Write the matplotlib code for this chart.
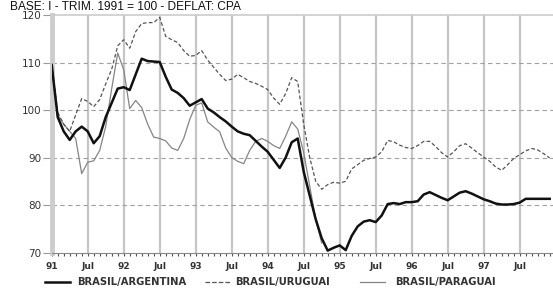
import matplotlib
matplotlib.use("Agg")
import matplotlib.pyplot as plt
from matplotlib.lines import Line2D
import numpy as np

# monthly index, Jan 1991 .. Dec 1997 (real exchange rate indices, 1st qtr 1991 = 100)
argentina = [109.5, 98.5, 95.5, 93.7, 95.5, 96.5, 95.5, 93.0, 94.5, 98.5, 101.5, 104.5,
             104.8, 104.2, 107.5, 110.8, 110.3, 110.2, 110.1, 107.0, 104.3, 103.6, 102.5, 100.9,
             101.6, 102.3, 100.3, 99.5, 98.5, 97.6, 96.5, 95.5, 95.0, 94.7, 93.5, 92.3,
             91.2, 89.5, 87.8, 90.0, 93.2, 94.0, 87.0, 82.0, 77.0, 73.0, 70.4, 71.0,
             71.5, 70.5, 73.5, 75.5, 76.5, 76.8, 76.4, 77.8, 80.2, 80.4, 80.2, 80.6,
             80.6, 80.8, 82.2, 82.7, 82.1, 81.5, 81.0, 81.8, 82.6, 82.9, 82.4, 81.8,
             81.2, 80.8, 80.3, 80.1, 80.1, 80.2, 80.5, 81.3, 81.3, 81.3, 81.3, 81.3]
uruguai = [109.5, 99.5, 97.0, 95.5, 99.0, 102.4, 101.8, 100.7, 102.2, 105.5, 108.6, 113.5,
           114.8, 113.0, 116.5, 118.2, 118.4, 118.4, 119.5, 115.5, 114.8, 114.2, 112.5, 111.3,
           111.5, 112.5, 110.5, 109.0, 107.5, 106.2, 106.5, 107.5, 106.8, 106.0, 105.6, 105.0,
           104.3, 102.5, 101.2, 103.5, 106.8, 106.0, 97.0, 90.0, 85.0, 83.3, 84.3, 84.8,
           84.6, 85.0, 87.6, 88.5, 89.4, 89.8, 90.1, 91.2, 93.6, 93.3, 92.6, 92.1,
           91.9, 92.5, 93.4, 93.4, 92.3, 91.0, 90.1, 91.2, 92.5, 92.9, 92.0, 91.0,
           90.1, 89.2, 88.0, 87.3, 88.5, 89.8, 90.6, 91.4, 91.9, 91.6, 90.8, 89.9]
paraguai = [109.5, 99.0, 97.0, 95.5, 94.0, 86.6, 89.0, 89.3, 91.5, 96.5, 104.5, 112.0,
            108.5, 100.3, 102.0, 100.5, 97.0, 94.3, 94.0, 93.5, 92.0, 91.5, 94.0, 98.0,
            101.0, 101.5, 97.5, 96.4, 95.4, 92.0, 90.0, 89.2, 88.7, 91.5, 93.4, 94.0,
            93.4, 92.5, 91.9, 94.5, 97.5, 96.0, 91.0, 84.0, 77.0, 72.0]

tick_labels = ["91", "Jul", "92", "Jul", "93", "Jul", "94", "Jul",
               "95", "Jul", "96", "Jul", "97", "Jul"]
y_ticks = [70, 80, 90, 100, 110, 120]
labels = ["BRASIL/ARGENTINA", "BRASIL/URUGUAI", "BRASIL/PARAGUAI"]
title = "BASE: I - TRIM. 1991 = 100 - DEFLAT: CPA"

W, H = 553, 295
fig = plt.figure(figsize=(W / 100, H / 100), dpi=100)
ax = fig.add_axes([51.7 / W, 1 - 252.5 / H, (W - 51.7) / W, (252.5 - 15) / H])

grid_c = "#c6c6c6"
for k in range(len(tick_labels)):
    ax.axvline(6 * k, color=grid_c, lw=1.6, zorder=1)
for v in y_ticks[1:-1]:
    ax.axhline(v, color="#a0a0a0", lw=0.8, ls=(0, (4, 3)), zorder=1)

x_ar = np.arange(len(argentina))
x_ur = np.arange(len(uruguai))
x_pa = np.arange(len(paraguai))
l_pa, = ax.plot(x_pa, paraguai, color="#858585", lw=0.9, zorder=3)
l_ur, = ax.plot(x_ur, uruguai, color="#555555", lw=0.9, ls=(0, (3, 1.8)), zorder=3)
l_ar, = ax.plot(x_ar, argentina, color="#111111", lw=1.8, zorder=4)

ax.set_xlim(0, (W - 51.7) / 6)
ax.set_ylim(70, 120)

ax.set_xticks(np.arange(len(tick_labels)) * 6)
ax.set_xticklabels(tick_labels, fontsize=6.5, fontweight="bold", color="#333333")
ax.set_xticks(np.arange(0, 84), minor=True)
ax.tick_params(axis="x", which="both", length=2.5, width=0.8, color="#555555",
               direction="out", pad=4.5)
ax.set_yticks(y_ticks)
ax.set_yticklabels([str(v) for v in y_ticks], fontsize=7.5, color="#333333")
ax.tick_params(axis="y", length=6.5, width=0.8, color="#999999", pad=1)

ax.spines["left"].set_color("#cdcdcd")
ax.spines["left"].set_linewidth(3.5)
ax.spines["top"].set_color("#cccccc")
ax.spines["top"].set_linewidth(1.2)
ax.spines["bottom"].set_color("#888888")
ax.spines["bottom"].set_linewidth(0.8)
ax.spines["right"].set_visible(False)

fig.text(10 / W, 1 - 9.5 / H, title, fontsize=8.6, family="Liberation Sans",
         va="baseline", ha="left", color="#111111")

# legend row along the bottom
ly = 1 - 282 / H
handles = [(45, 70, l_ar), (205, 230, l_ur), (360, 385, l_pa)]
text_x = [77, 235, 395]
for (x0, x1, ln), tx, lab in zip(handles, text_x, labels):
    fig.add_artist(Line2D([x0 / W, x1 / W], [ly, ly], color=ln.get_color(),
                          lw=ln.get_linewidth(), ls=ln.get_linestyle(),
                          transform=fig.transFigure))
    fig.text(tx / W, ly, lab, fontsize=7.2, fontweight="bold", color="#333333",
             va="center", ha="left")

fig.savefig("out.png", dpi=100)
